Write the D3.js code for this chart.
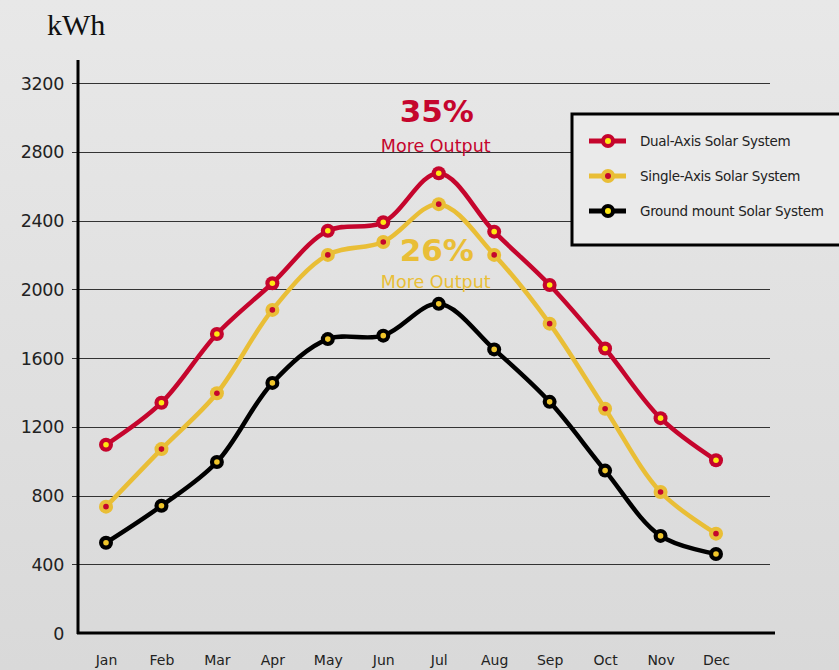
<!DOCTYPE html>
<html>
<head>
<meta charset="utf-8">
<script src="https://cdn.jsdelivr.net/npm/d3@7"></script>
<style>
  body { margin: 0; }
  svg { display: block; }
  .grid line { stroke: #333; stroke-width: 1.2; }
  .tick text { fill: #222; }
</style>
</head>
<body>
<script>
"use strict";

var width = 839;
var height = 670;

var months = ["Jan", "Feb", "Mar", "Apr", "May", "Jun", "Jul", "Aug", "Sep", "Oct", "Nov", "Dec"];
var yTicks = [0, 400, 800, 1200, 1600, 2000, 2400, 2800, 3200];

var dualAxis = [1095, 1340, 1740, 2035, 2340, 2390, 2675, 2335, 2025, 1655, 1250, 1005];
var singleAxis = [735, 1070, 1395, 1880, 2200, 2275, 2495, 2200, 1800, 1305, 820, 578];
var groundMount = [525, 740, 995, 1455, 1710, 1730, 1915, 1650, 1345, 945, 565, 460];

var seriesNames = ["Dual-Axis Solar System", "Single-Axis Solar System", "Ground mount Solar System"];
var seriesColors = ["#c5052d", "#e9be36", "#000000"];
var dotColors = ["#ffe812", "#c5052d", "#f0c52a"];

var svg = d3.select("body")
  .append("svg")
  .attr("width", width)
  .attr("height", height);

var defs = svg.append("defs");
var grad = defs.append("linearGradient")
  .attr("id", "bg")
  .attr("x1", 0).attr("y1", 0).attr("x2", 0).attr("y2", 1);
grad.append("stop").attr("offset", "0%").attr("stop-color", "#e8e8e8");
grad.append("stop").attr("offset", "100%").attr("stop-color", "#d9d9d9");

svg.append("rect")
  .attr("width", width)
  .attr("height", height)
  .attr("fill", "url(#bg)");

var x = d3.scalePoint()
  .domain(months)
  .range([106, 716]);

var y = d3.scaleLinear()
  .domain([0, 3200])
  .range([633, 83]);

// gridlines
svg.append("g")
  .attr("class", "grid")
  .selectAll("line")
  .data(yTicks.slice(1))
  .enter()
  .append("line")
  .attr("x1", 72)
  .attr("x2", 770)
  .attr("y1", function(d) { return Math.round(y(d)) + 0.5; })
  .attr("y2", function(d) { return Math.round(y(d)) + 0.5; });

// y axis labels
var yAxis = d3.axisLeft(y)
  .tickValues(yTicks)
  .tickFormat(d3.format("d"))
  .tickSize(0)
  .tickPadding(0);

svg.append("g")
  .attr("transform", "translate(64,0)")
  .call(yAxis)
  .call(function(g) { g.select(".domain").remove(); })
  .selectAll("text")
  .attr("font-family", "DejaVu Sans")
  .attr("font-size", 17.5)
  .attr("letter-spacing", "-0.3")
  .attr("dy", "0.35em");

// x axis labels
var xAxis = d3.axisBottom(x).tickSize(0).tickPadding(0);
svg.append("g")
  .attr("transform", "translate(0,655)")
  .call(xAxis)
  .call(function(g) { g.select(".domain").remove(); })
  .selectAll("text")
  .attr("font-family", "DejaVu Sans")
  .attr("font-size", 14)
  .attr("dy", "0.7em");

// axis lines
svg.append("line")
  .attr("x1", 78).attr("x2", 78)
  .attr("y1", 60).attr("y2", 634)
  .attr("stroke", "#000").attr("stroke-width", 3);
svg.append("line")
  .attr("x1", 77).attr("x2", 775)
  .attr("y1", 633).attr("y2", 633)
  .attr("stroke", "#000").attr("stroke-width", 3);

svg.append("text")
  .attr("x", 47)
  .attr("y", 35)
  .attr("font-family", "Liberation Serif")
  .attr("font-size", 30)
  .attr("fill", "#111")
  .text("kWh");

var allSeries = [dualAxis, singleAxis, groundMount];

var line = d3.line()
  .x(function(d, i) { return x(months[i]); })
  .y(function(d) { return y(d); })
  .curve(d3.curveCatmullRom.alpha(0.5));

// draw back to front so red stays on top
for (var s = allSeries.length - 1; s >= 0; s--) {
  var g = svg.append("g");
  g.append("path")
    .attr("d", line(allSeries[s]))
    .attr("fill", "none")
    .attr("stroke", seriesColors[s])
    .attr("stroke-width", 4.5)
    .attr("stroke-linecap", "round");

  g.selectAll(".ring")
    .data(allSeries[s])
    .enter()
    .append("circle")
    .attr("cx", function(d, i) { return x(months[i]); })
    .attr("cy", function(d) { return y(d); })
    .attr("r", 7)
    .attr("fill", seriesColors[s]);

  g.selectAll(".dot")
    .data(allSeries[s])
    .enter()
    .append("circle")
    .attr("cx", function(d, i) { return x(months[i]); })
    .attr("cy", function(d) { return y(d); })
    .attr("r", 2.8)
    .attr("fill", dotColors[s]);
}

// annotations
var ann = [
  { big: "35%", color: "#c5052d", y1: 122, y2: 152 },
  { big: "26%", color: "#e9be36", y1: 261, y2: 288 }
];
ann.forEach(function(a) {
  svg.append("text")
    .attr("x", x("Jul") - 2)
    .attr("y", a.y1)
    .attr("text-anchor", "middle")
    .attr("font-family", "DejaVu Sans")
    .attr("font-weight", "bold")
    .attr("font-size", 31)
    .attr("fill", a.color)
    .text(a.big);
  svg.append("text")
    .attr("x", x("Jul") - 3)
    .attr("y", a.y2)
    .attr("text-anchor", "middle")
    .attr("font-family", "DejaVu Sans")
    .attr("font-size", 17.5)
    .attr("fill", a.color)
    .text("More Output");
});

// legend
var legend = svg.append("g");
legend.append("rect")
  .attr("x", 572)
  .attr("y", 114)
  .attr("width", 280)
  .attr("height", 131)
  .attr("fill", "#eaeaea")
  .attr("stroke", "#000")
  .attr("stroke-width", 3);

seriesNames.forEach(function(name, i) {
  var ly = 141 + i * 35;
  legend.append("line")
    .attr("x1", 589).attr("x2", 626)
    .attr("y1", ly).attr("y2", ly)
    .attr("stroke", seriesColors[i])
    .attr("stroke-width", 5);
  legend.append("circle")
    .attr("cx", 608).attr("cy", ly)
    .attr("r", 7)
    .attr("fill", seriesColors[i]);
  legend.append("circle")
    .attr("cx", 608).attr("cy", ly)
    .attr("r", 3)
    .attr("fill", i === 1 ? "#c5052d" : "#ffe812");
  legend.append("text")
    .attr("x", 640)
    .attr("y", ly)
    .attr("dy", "0.35em")
    .attr("font-family", "DejaVu Sans")
    .attr("font-size", 13.5)
    .attr("letter-spacing", "-0.3")
    .attr("fill", "#222")
    .text(name);
});
</script>
</body>
</html>
